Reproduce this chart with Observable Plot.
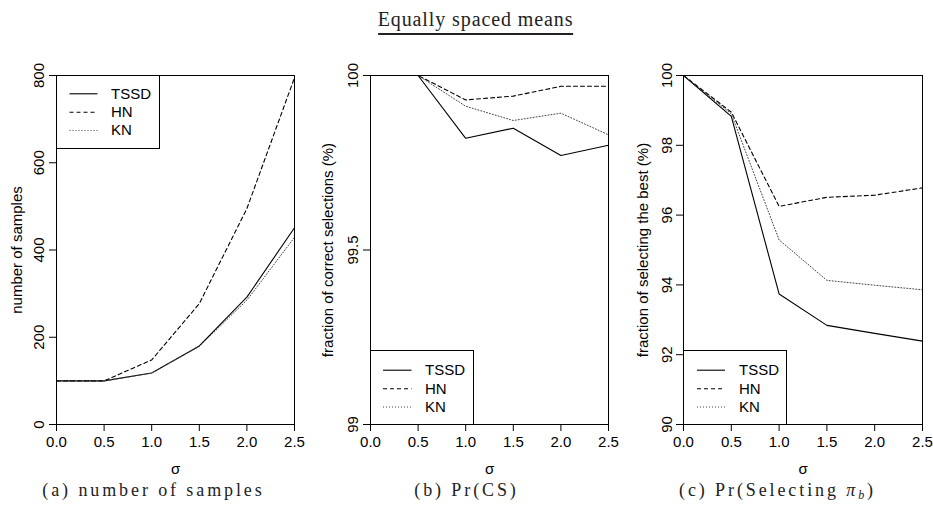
<!DOCTYPE html>
<html><head><meta charset="utf-8">
<script src="https://cdn.jsdelivr.net/npm/d3@7"></script>
<script src="https://cdn.jsdelivr.net/npm/@observablehq/plot@0.6"></script>
<style>
body{margin:0;background:#fff;}
#wrap{position:relative;width:933px;height:510px;overflow:hidden;background:#fff;font-family:"Liberation Sans",Arial,Helvetica,sans-serif;}
.title{position:absolute;top:9px;left:475.5px;transform:translateX(-50%);white-space:nowrap;
  font-family:"Liberation Serif","Times New Roman",serif;font-size:20px;line-height:20px;letter-spacing:0.9px;color:#222;
  border-bottom:2.5px solid #222;padding-bottom:3.5px;}
.cap{position:absolute;top:481px;width:311px;text-align:center;white-space:nowrap;
  font-family:"Liberation Serif","Times New Roman",serif;font-size:18px;line-height:18px;letter-spacing:2.9px;color:#222;}
.cap sub{font-size:12px;vertical-align:-3px;line-height:0;}
#overlay{position:absolute;left:0;top:0;}
</style></head><body>
<div id="wrap">
  <div class="title">Equally spaced means</div>
  <div class="cap" style="left:-2px">(a) number of samples</div>
  <div class="cap" style="left:311px">(b) Pr(CS)</div>
  <div class="cap" style="left:622px">(c) Pr(Selecting <i>π</i><sub><i>b</i></sub>)</div>
</div>
<script>
// ---- data ----
const sigma = [0, 0.5, 1.0, 1.5, 2.0, 2.5];
const seriesNames = ["TSSD", "HN", "KN"];

const samplesTSSD = [100, 100, 118, 180, 292, 451];
const samplesHN   = [100, 100, 148, 277, 495, 795];
const samplesKN   = [100, 100, 118, 179, 285, 429];

const pcsTSSD = [100, 100, 99.820, 99.849, 99.771, 99.800];
const pcsHN   = [100, 100, 99.930, 99.941, 99.969, 99.969];
const pcsKN   = [100, 100, 99.912, 99.871, 99.892, 99.830];

const bestTSSD = [100, 98.83, 93.74, 92.84, 92.61, 92.39];
const bestHN   = [100, 98.95, 96.25, 96.51, 96.57, 96.78];
const bestKN   = [100, 98.90, 95.29, 94.13, 93.99, 93.86];

const xTicks  = [0, 0.5, 1.0, 1.5, 2.0, 2.5];
const yTicksA = [0, 200, 400, 600, 800];
const yTicksB = [99, 99.5, 100];
const yTicksC = [90, 92, 94, 96, 98, 100];

const yLabelA = "number of samples";
const yLabelB = "fraction of correct selections (%)";
const yLabelC = "fraction of selecting the best (%)";
const xLabel = "σ";

// ---- drawing ----
const FONT = '"Liberation Sans", Arial, Helvetica, sans-serif';
const wrap = document.getElementById("wrap");
const styles = [
  {stroke: "#000", strokeWidth: 1.1},
  {stroke: "#000", strokeWidth: 1.1, strokeDasharray: "4,3"},
  {stroke: "#444", strokeWidth: 1, strokeDasharray: "1,2"}
];

function makePanel(cfg) {
  const {left, width, mL, mR, yDomain, yTicks, ylab, ylabDx, yTickDx, series} = cfg;
  const rows = (vals) => sigma.map((s, i) => ({sigma: s, value: vals[i]}));
  const plot = Plot.plot({
    width, height: 440, marginTop: 35, marginBottom: 56, marginLeft: mL, marginRight: mR,
    x: {domain: [0, 2.5]},
    y: {domain: yDomain},
    style: {fontFamily: FONT, fontSize: "15px", color: "#000", background: "transparent", overflow: "visible"},
    marks: [
      ...series.map((vals, k) => Plot.line(rows(vals), {x: "sigma", y: "value", ...styles[k]})),
      Plot.frame({stroke: "#000"}),
      Plot.axisX(xTicks, {tickSize: 7, tickPadding: 5, tickFormat: d => d.toFixed(1), label: null, fontSize: 15}),
      Plot.axisY(yTicks, {tickSize: 7, tickFormat: () => "", label: null}),
      Plot.text(yTicks, {y: d => d, text: d => String(d), frameAnchor: "left", dx: yTickDx, rotate: -90,
        textAnchor: "middle", lineAnchor: "bottom", fontSize: 15}),
      Plot.text([ylab], {text: d => d, frameAnchor: "left", dx: ylabDx, rotate: -90, fontSize: 15,
        textAnchor: "middle", lineAnchor: "middle"}),
      Plot.text([xLabel], {text: d => d, frameAnchor: "bottom", dy: 49, fontSize: 15})
    ]
  });
  plot.style.position = "absolute";
  plot.style.left = left + "px";
  plot.style.top = "40px";
  wrap.appendChild(plot);
}

makePanel({left: 0, width: 310, mL: 56, mR: 16, yDomain: [0, 800], yTicks: yTicksA,
  ylab: yLabelA, ylabDx: -39, yTickDx: -13, series: [samplesTSSD, samplesHN, samplesKN]});
makePanel({left: 310, width: 311, mL: 60, mR: 13, yDomain: [99, 100], yTicks: yTicksB,
  ylab: yLabelB, ylabDx: -42, yTickDx: -13, series: [pcsTSSD, pcsHN, pcsKN]});
makePanel({left: 620, width: 313, mL: 63, mR: 11, yDomain: [90, 100], yTicks: yTicksC,
  ylab: yLabelC, ylabDx: -40, yTickDx: -12, series: [bestTSSD, bestHN, bestKN]});

// ---- legends ----
const overlay = d3.select(wrap).append("svg").attr("id", "overlay")
  .attr("width", 933).attr("height", 510).style("pointer-events", "none");
const legends = [
  {x: 56, y: 75, w: 103, h: 73, lx0: 69.5, lx1: 97.5, tx: 111, rows: [93.3, 111.7, 130]},
  {x: 370, y: 350, w: 103, h: 74, lx0: 383, lx1: 411.5, tx: 425, rows: [369.7, 388.3, 406.5]},
  {x: 683, y: 350, w: 103, h: 74, lx0: 697, lx1: 725, tx: 739, rows: [369.7, 388.3, 406.5]}
];
for (const L of legends) {
  const g = overlay.append("g");
  g.append("rect").attr("x", L.x + 0.5).attr("y", L.y + 0.5).attr("width", L.w).attr("height", L.h)
    .attr("fill", "none").attr("stroke", "#000").attr("stroke-width", 1);
  seriesNames.forEach((name, k) => {
    const s = styles[k];
    g.append("line").attr("x1", L.lx0).attr("x2", L.lx1).attr("y1", L.rows[k] + 0.5).attr("y2", L.rows[k] + 0.5)
      .attr("stroke", s.stroke).attr("stroke-width", s.strokeWidth)
      .attr("stroke-dasharray", s.strokeDasharray || null);
    g.append("text").attr("x", L.tx).attr("y", L.rows[k]).attr("dy", "0.35em")
      .attr("font-family", FONT).attr("font-size", 15).attr("fill", "#000").text(name);
  });
}
</script>
</body></html>
